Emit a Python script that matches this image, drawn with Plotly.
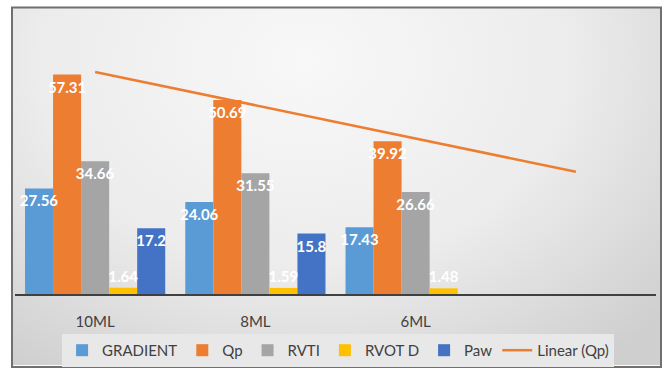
import base64
import numpy as np
import plotly.graph_objects as go

categories = ["10ML", "8ML", "6ML"]
positions = [1, 2, 3]
gradient = [27.56, 24.06, 17.43]
qp = [57.31, 50.69, 39.92]
rvti = [34.66, 31.55, 26.66]
rvot_d = [1.64, 1.59, 1.48]
paw = [17.2, 15.8, None]

series = [
    ("GRADIENT", gradient, "#5B9BD5", "inside"),
    ("Qp", qp, "#ED7D31", "inside"),
    ("RVTI", rvti, "#A5A5A5", "inside"),
    ("RVOT D", rvot_d, "#FFC000", "outside"),
    ("Paw", paw, "#4472C4", "inside"),
]

FONT = "Lato"
LBL = dict(family=FONT, size=15, color="white", weight="bold")
fig = go.Figure()
# visible bars
for name, vals, color, tpos in series:
    fig.add_trace(go.Bar(
        x=positions, y=vals, name=name, offsetgroup=name,
        marker=dict(color=color, line=dict(width=0)),
        textposition="none",
    ))
# transparent copies carrying the data labels, drawn on top of all bars
for name, vals, color, tpos in series:
    fig.add_trace(go.Bar(
        x=positions, y=vals, name=name, offsetgroup=name, showlegend=False,
        marker=dict(color="rgba(0,0,0,0)", line=dict(width=0)), hoverinfo="skip",
        text=[("" if v is None else f"{v:g}") for v in vals],
        textposition=tpos, insidetextanchor="end", constraintext="none", textangle=0,
        textfont=LBL, outsidetextfont=LBL, insidetextfont=LBL,
        cliponaxis=False,
    ))

# Linear trendline of Qp, forecast one period forward
slope, intercept = np.polyfit(positions, qp, 1)
tx = [positions[0], positions[-1] + 1]
fig.add_trace(go.Scatter(
    x=tx, y=[slope * t + intercept for t in tx], mode="lines", name="Linear (Qp)",
    line=dict(color="#ED7D31", width=2.5),
))

# background gradient
svg = ('<svg xmlns="http://www.w3.org/2000/svg" width="649" height="367" viewBox="0 0 649 367" preserveAspectRatio="none">'
       '<defs><radialGradient id="g" cx="0.45" cy="0.15" r="0.75" gradientTransform="translate(0.45 0.15) scale(1 1.4) translate(-0.45 -0.15)">'
       '<stop offset="0" stop-color="#f8f8f8"/><stop offset="0.55" stop-color="#ececec"/>'
       '<stop offset="1" stop-color="#cfcfcf"/></radialGradient></defs>'
       '<rect width="649" height="367" fill="url(#g)"/></svg>')
src = "data:image/svg+xml;base64," + base64.b64encode(svg.encode()).decode()

W, H = 663, 374
ml, mr, mt, mb = 15, 7, 26, 73
pw, ph = W - ml - mr, H - mt - mb
def px(x):
    return (x - ml) / pw
def py(y):
    return (H - mb - y) / ph

fig.update_layout(
    width=W, height=H,
    margin=dict(l=ml, r=mr, t=mt, b=mb),
    paper_bgcolor="white", plot_bgcolor="rgba(0,0,0,0)",
    barmode="group", bargap=0.125, bargroupgap=0,
    font=dict(family=FONT, size=14, color="#404040"),
    showlegend=True,
    legend=dict(orientation="h", x=0.504, xanchor="center", y=py(342), yanchor="top",
                bgcolor="#e8e8e8", font=dict(family=FONT, size=15, color="#404040"),
                itemwidth=30, traceorder="normal"),
    images=[dict(source=src, xref="paper", yref="paper", x=px(12), y=py(7),
                 sizex=px(661) - px(12), sizey=py(7) - py(374),
                 xanchor="left", yanchor="top", sizing="stretch", layer="below")],
    shapes=[dict(type="rect", xref="paper", yref="paper", x0=px(12), x1=px(661),
                 y0=py(376), y1=py(7), line=dict(color="#707070", width=2),
                 fillcolor="rgba(0,0,0,0)", layer="above")],
)
fig.update_xaxes(range=[0.5, 4.5], tickvals=positions, ticktext=categories,
                 showline=True, linecolor="#404040", linewidth=2, showgrid=False,
                 zeroline=False, ticks="", tickfont=dict(family=FONT, size=15, color="#404040"),
                 ticklabelstandoff=13)
fig.update_yaxes(range=[0, 70], visible=False, showgrid=False, zeroline=False)

fig.write_html("out.html")
